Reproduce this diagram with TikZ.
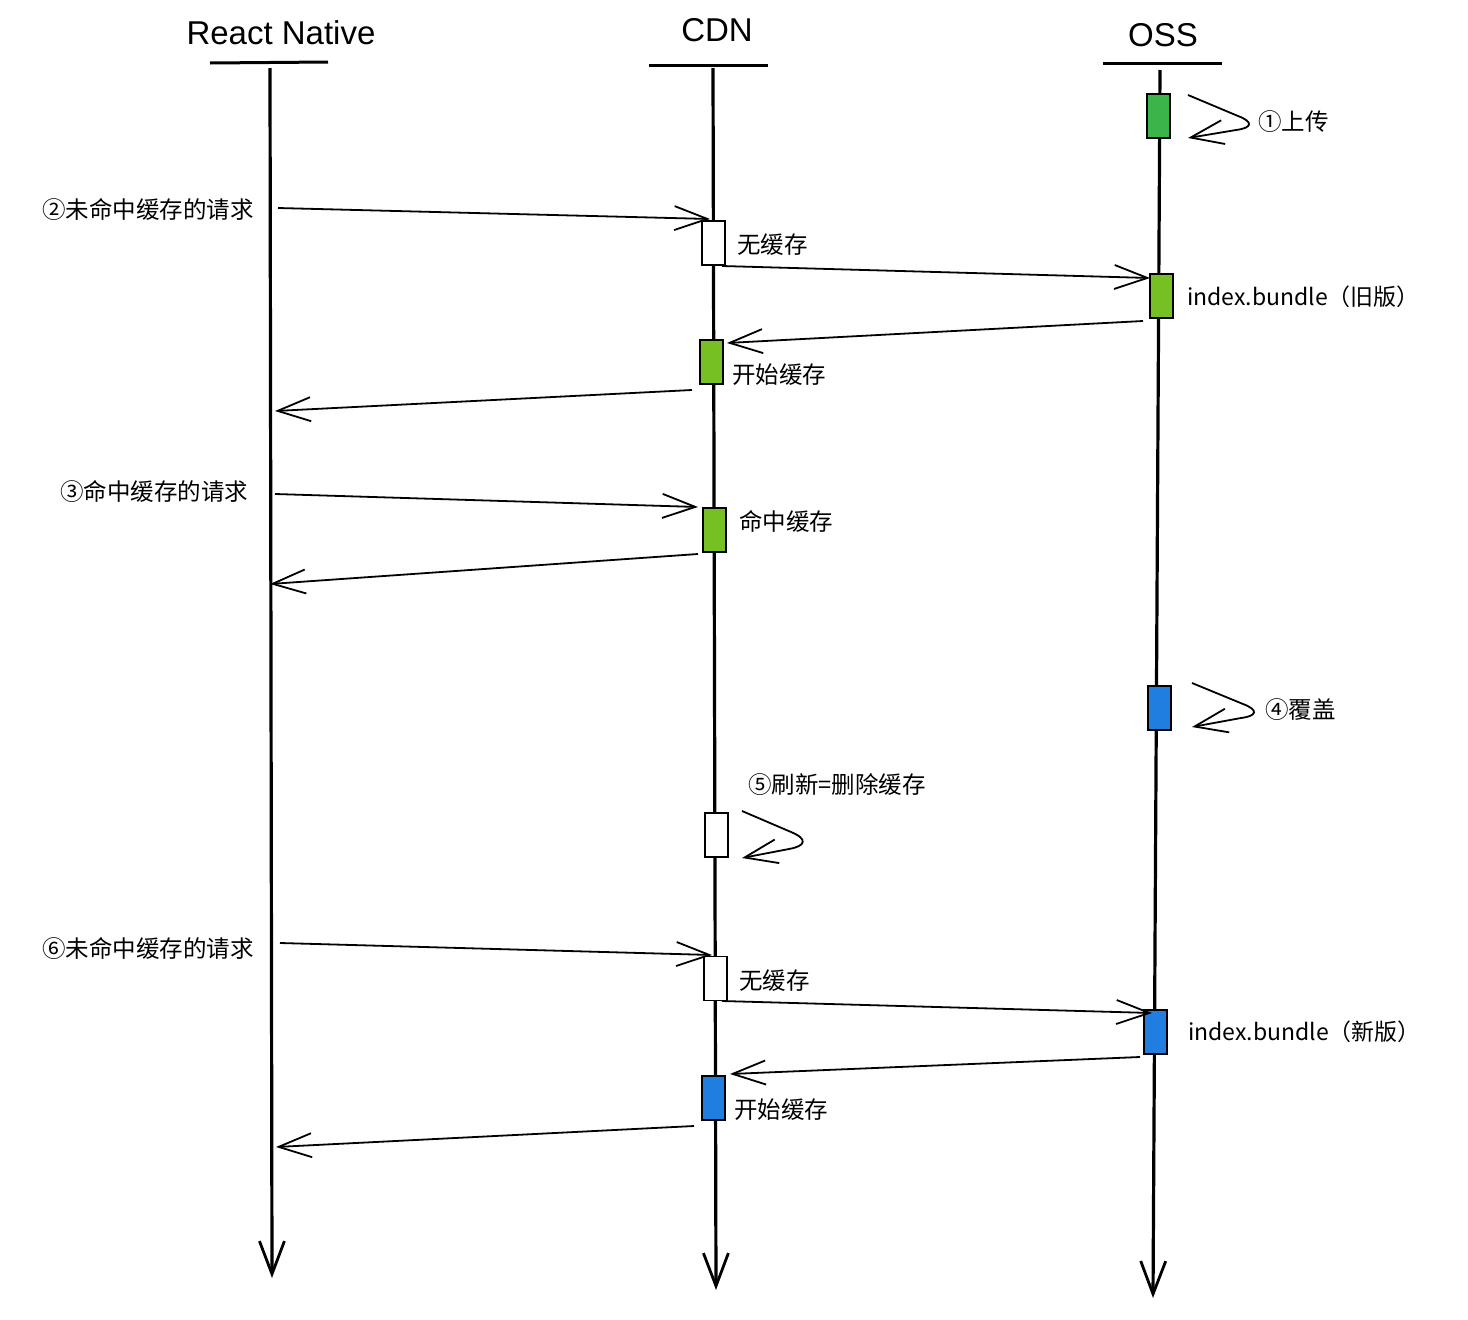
\documentclass[tikz,border=0pt]{standalone}
\usepackage{fontspec}
\setmainfont{Noto Sans CJK SC}
\newfontfamily\hfont{Liberation Sans}
\usetikzlibrary{arrows.meta}
\definecolor{greenA}{HTML}{3BB54A}
\definecolor{greenB}{HTML}{77C024}
\definecolor{blueA}{HTML}{1F7EE0}
\begin{document}
\begin{tikzpicture}[x=1pt,y=-1pt,
  header/.style={font=\hfont\fontsize{33}{38}\selectfont, inner sep=0pt},
  headline/.style={line width=3pt},
  life/.style={line width=3.2pt, -{Straight Barb[length=33pt,width=25pt,line width=2.8pt]}},
  actbox/.style={draw, line width=1.8pt, minimum width=23pt, minimum height=44pt, inner sep=0pt},
  msg/.style={line width=1.8pt, -{Straight Barb[length=33pt,width=24pt,line width=1.8pt]}},
  lbl/.style={font=\fontsize{23.5}{27}\selectfont, inner sep=0pt, anchor=west},
  lblb/.style={font=\fontsize{23}{27}\selectfont, inner sep=0pt, anchor=west}
]
\useasboundingbox (0,0) rectangle (1468,1320);
\fill[white] (0,0) rectangle (1468,1320);

% headers
\node[header] (hRN) at (281,33) {React Native};
\node[header] (hCDN) at (717,30) {CDN};
\node[header] (hOSS) at (1163,35) {OSS};
\coordinate (uRNa) at (210,63); \coordinate (uRNb) at (328,62);
\coordinate (uCa) at (649,65); \coordinate (uCb) at (768,65);
\coordinate (uOa) at (1103,63); \coordinate (uOb) at (1222,63);
\draw[headline] (uRNa) -- (uRNb);
\draw[headline] (uCa) -- (uCb);
\draw[headline] (uOa) -- (uOb);

% lifelines
\coordinate (rnTop) at (270,68); \coordinate (rnBot) at (272,1278);
\coordinate (cTop) at (713,68); \coordinate (cBot) at (716,1290);
\coordinate (oTop) at (1160,70); \coordinate (oBot) at (1153,1298);
\draw[life] (rnTop) -- (rnBot);
\draw[life] (cTop) -- (cBot);
\draw[life] (oTop) -- (oBot);

% activation boxes
\node[actbox, fill=greenA] (o1) at (1158.5,116) {};
\node[actbox, fill=white]  (c1) at (713.5,243) {};
\node[actbox, fill=greenB] (o2) at (1161.5,296) {};
\node[actbox, fill=greenB] (c2) at (711.5,362) {};
\node[actbox, fill=greenB] (c3) at (714.5,530) {};
\node[actbox, fill=blueA]  (o3) at (1159.5,708) {};
\node[actbox, fill=white]  (c4) at (716.5,835) {};
\node[actbox, fill=white]  (c5) at (715.5,978.5) {};
\node[actbox, fill=blueA]  (o4) at (1155.5,1032) {};
\node[actbox, fill=blueA]  (c6) at (713.5,1098) {};

% self messages
\coordinate (s1a) at (1188,95); \coordinate (s1b) at (1188,138);
\draw[msg] (s1a) -- (1238,116) .. controls (1254,122) and (1252,128) .. (1236,130) -- (s1b);
\node[lbl] (l1) at (1258,122) {①上传};

\coordinate (s4a) at (1192,683); \coordinate (s4b) at (1192,727);
\draw[msg] (s4a) -- (1243,704) .. controls (1259,710) and (1257,716) .. (1241,718) -- (s4b);
\node[lbl] (l4) at (1265,710) {④覆盖};

\coordinate (s5a) at (742,811); \coordinate (s5b) at (742,858);
\draw[msg] (s5a) -- (791,832) .. controls (808,839) and (806,846) .. (789,849) -- (s5b);
\node[lbl] (l5) at (748,785) {⑤刷新=删除缓存};

% message 2
\node[lbl] (l2) at (42,209) {②未命中缓存的请求};
\coordinate (m2a) at (278,208); \coordinate (m2b) at (710,219);
\draw[msg] (m2a) -- (m2b);
\node[lbl] (t1) at (737,245) {无缓存};
\coordinate (m3a) at (722,266); \coordinate (m3b) at (1150,278);
\draw[msg] (m3a) -- (m3b);
\node[lblb] (t2) at (1187,297) {index.bundle（旧版）};
\coordinate (m4a) at (1143,321); \coordinate (m4b) at (727,343);
\draw[msg] (m4a) -- (m4b);
\node[lbl] (t3) at (732,375) {开始缓存};
\coordinate (m5a) at (692,390); \coordinate (m5b) at (275,411);
\draw[msg] (m5a) -- (m5b);

% message 3
\node[lbl] (l3) at (60,491) {③命中缓存的请求};
\coordinate (m6a) at (275,494); \coordinate (m6b) at (698,507);
\draw[msg] (m6a) -- (m6b);
\node[lbl] (t4) at (739,521) {命中缓存};
\coordinate (m7a) at (698,554); \coordinate (m7b) at (270,584);
\draw[msg] (m7a) -- (m7b);

% message 6
\node[lbl] (l6) at (42,948) {⑥未命中缓存的请求};
\coordinate (m8a) at (280,943); \coordinate (m8b) at (712,955);
\draw[msg] (m8a) -- (m8b);
\node[lbl] (t5) at (739,981) {无缓存};
\coordinate (m9a) at (722,1001); \coordinate (m9b) at (1152,1013);
\draw[msg] (m9a) -- (m9b);
\node[lblb] (t6) at (1188,1032) {index.bundle（新版）};
\coordinate (m10a) at (1140,1057); \coordinate (m10b) at (730,1074);
\draw[msg] (m10a) -- (m10b);
\node[lbl] (t7) at (734,1110) {开始缓存};
\coordinate (m11a) at (694,1126); \coordinate (m11b) at (276,1147);
\draw[msg] (m11a) -- (m11b);
\end{tikzpicture}
\end{document}
